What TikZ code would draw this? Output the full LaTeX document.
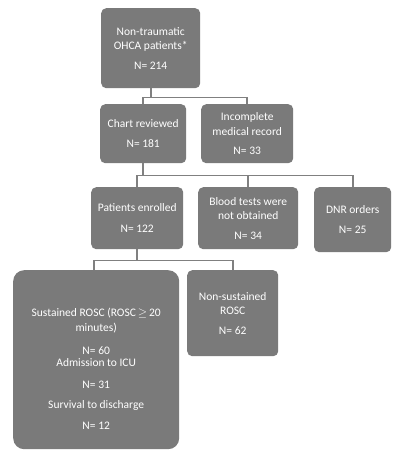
\documentclass[tikz,border=0pt]{standalone}
\usepackage{fontspec}
\setmainfont{Carlito}
\definecolor{boxgray}{RGB}{122,122,122}
\definecolor{linegray}{RGB}{128,128,128}
\begin{document}
\begin{tikzpicture}[x=1pt,y=-1pt,
  box/.style={fill=boxgray,text=white,rounded corners=5pt,anchor=north west,
    align=center,inner sep=0pt,font=\fontsize{11.5}{14.5}\selectfont},
  link/.style={draw=linegray,line width=1.6pt}]
\useasboundingbox (0,0) rectangle (393,450);

\node[box,minimum width=99pt,minimum height=80pt] (total) at (101,8)
  {Non-traumatic\\OHCA patients*\\[5pt]N= 214};
\node[box,minimum width=86pt,minimum height=59pt] (chart) at (100,104)
  {Chart reviewed\\[6pt]N= 181};
\node[box,minimum width=92pt,minimum height=59pt] (incomplete) at (201,104)
  {Incomplete\\medical record\\[5pt]N= 33};
\node[box,minimum width=92pt,minimum height=62pt] (enrolled) at (91,187)
  {Patients enrolled\\[6pt]N= 122};
\node[box,minimum width=100pt,minimum height=62pt] (blood) at (198,187)
  {Blood tests were\\not obtained\\[5pt]N= 34};
\node[box,minimum width=77pt,minimum height=65pt] (dnr) at (314,187)
  {DNR orders\\[6pt]N= 25};
\node[box,rounded corners=11pt,minimum width=166pt,minimum height=179pt] (sustained) at (13,270)
  {\\[12.5pt]Sustained ROSC (ROSC\,$\geq$\,20\\minutes)\\[8.5pt]N= 60\\[-2.5pt]Admission to ICU\\[7.5pt]N= 31\\[5.5pt]Survival to discharge\\[6.5pt]N= 12};
\node[box,minimum width=91pt,minimum height=86pt] (nonsustained) at (187,270)
  {Non-sustained\\ROSC\\[5pt]N= 62};

\draw[link] (total.south) -- ++(0,9) coordinate (j1);
\draw[link] (chart.north) |- (j1) -| (incomplete.north);

\draw[link] (chart.south) -- ++(0,12) coordinate (j2);
\draw[link] (enrolled.north) |- (j2) -| (dnr.north);
\draw[link] (j2) -| (blood.north);

\draw[link] (enrolled.south) -- ++(0,11) coordinate (j3);
\draw[link] (sustained.north) ++(-2,0) coordinate (s1) |- (j3) -| (nonsustained.north);
\end{tikzpicture}
\end{document}
